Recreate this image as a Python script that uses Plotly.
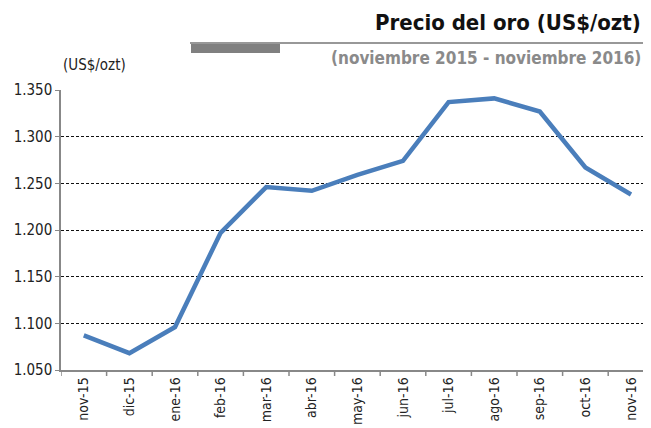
import plotly.graph_objects as go

months = ["nov-15", "dic-15", "ene-16", "feb-16", "mar-16", "abr-16", "may-16",
          "jun-16", "jul-16", "ago-16", "sep-16", "oct-16", "nov-16"]
prices = [1087, 1068, 1096, 1197, 1246, 1242, 1259, 1274, 1337, 1341, 1327, 1267, 1238]
y_ticks = [1050, 1100, 1150, 1200, 1250, 1300, 1350]

FONT = "DejaVu Sans Condensed, Liberation Sans Narrow, Roboto, Arial, sans-serif"

# page body has an 8px default margin; compensate
OFF = 8
L, T, B = 61 - OFF, 90 - OFF, 58
W, H = 651 - OFF, 428 - OFF
PW = W - L
PH = H - T - B

def px(x):
    return (x - OFF - L) / PW

def py(y):
    return (H - B - (y - OFF)) / PH

fig = go.Figure()
fig.add_trace(go.Scatter(
    x=list(range(len(months))), y=prices, mode="lines",
    line=dict(color="#4a7ebb", width=4.5),
    hoverinfo="skip",
))

fig.update_layout(
    width=W, height=H,
    margin=dict(l=L, r=0, t=T, b=B, autoexpand=False),
    paper_bgcolor="white", plot_bgcolor="white",
    separators=",.",
    showlegend=False,
    font=dict(family=FONT, color="#222"),
    xaxis=dict(
        tickmode="array", tickvals=list(range(len(months))), ticktext=months,
        range=[-0.5, 12.5 + (PW - 13 * 45.6) / 45.6], tickangle=-90,
        showgrid=False, zeroline=False,
        showline=True, linecolor="#888", linewidth=1.5,
        tickfont=dict(size=14, color="#222", family=FONT),
        ticks="",
    ),
    yaxis=dict(
        range=[1050, 1350], tickvals=y_ticks, tickformat=",.0f",
        showgrid=True, gridcolor="#111", griddash="3px,2px", gridwidth=1,
        zeroline=False, showline=True, linecolor="#888", linewidth=1.5,
        ticks="outside", ticklen=4, tickcolor="#888",
        tickfont=dict(size=15, color="#222", family=FONT),
    ),
)

shapes = []
for i in range(len(months) + 1):
    shapes.append(dict(type="line", xref="x", yref="paper",
                       x0=i - 0.5, x1=i - 0.5, y0=0, y1=-6 / PH,
                       line=dict(color="#888", width=1.5)))
shapes.append(dict(type="line", xref="paper", yref="paper",
                   x0=px(190), x1=1.0, y0=py(43), y1=py(43),
                   line=dict(color="#333", width=1.2)))
shapes.append(dict(type="rect", xref="paper", yref="paper",
                   x0=px(191), x1=px(280), y0=py(53), y1=py(44),
                   fillcolor="#808080", line=dict(width=0)))
fig.update_layout(shapes=shapes)

fig.add_annotation(text="<b>Precio del oro (US$/ozt)</b>", xref="paper", yref="paper",
                   x=px(643), y=py(22), xanchor="right", yanchor="middle",
                   showarrow=False, font=dict(size=22, color="#111", family=FONT))
fig.add_annotation(text="<b>(noviembre 2015 - noviembre 2016)</b>", xref="paper", yref="paper",
                   x=px(643), y=py(58), xanchor="right", yanchor="middle",
                   showarrow=False, font=dict(size=17, color="#8a8a8a", family=FONT))
fig.add_annotation(text="(US$/ozt)", xref="paper", yref="paper",
                   x=px(61), y=py(65), xanchor="left", yanchor="middle",
                   showarrow=False, font=dict(size=15, color="#222", family=FONT))

fig.write_html("out.html")
